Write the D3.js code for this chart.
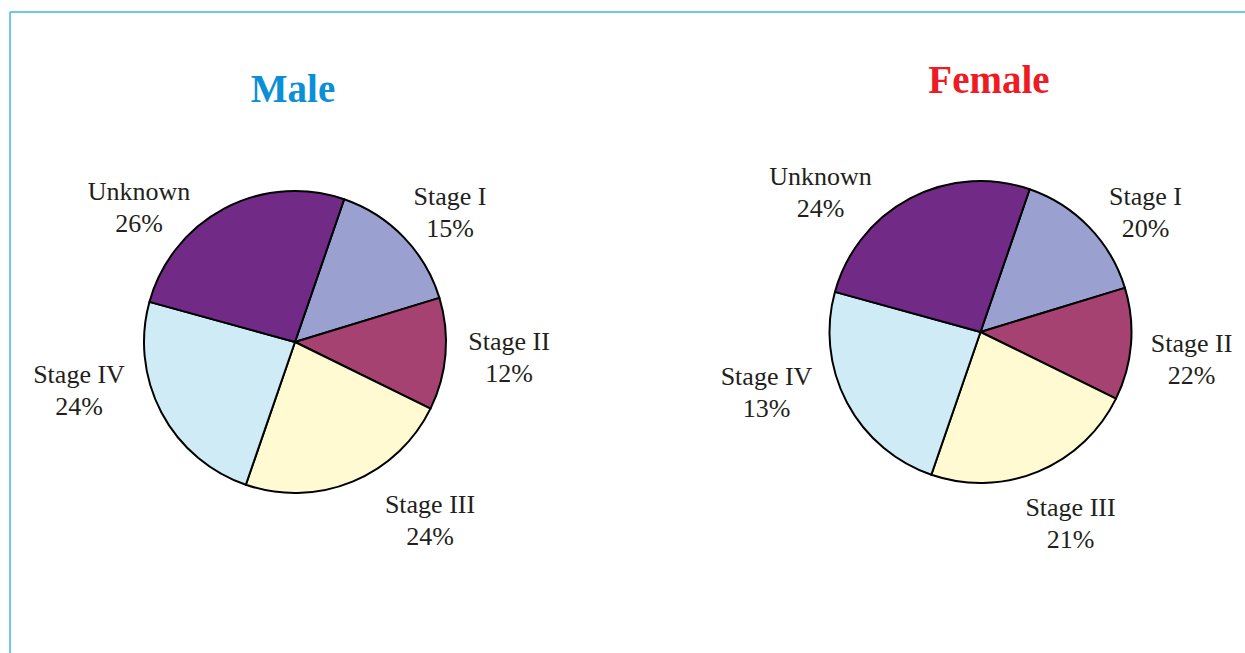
<!DOCTYPE html>
<html>
<head>
<meta charset="utf-8">
<script src="https://cdn.jsdelivr.net/npm/d3@7"></script>
<style>
  html, body { margin: 0; padding: 0; background: #fff; }
  text { font-family: "Liberation Serif", "Times New Roman", serif; }
</style>
</head>
<body>
<svg id="chart" width="1245" height="653"></svg>
<script>
// stage categories, in clockwise order from the top
var stages = ['Stage I', 'Stage II', 'Stage III', 'Stage IV', 'Unknown']
var stageColors = ['#9aa0cf', '#a54272', '#fffad2', '#cfebf5', '#722a87']

// percentages printed on the labels
var maleLabels = [15, 12, 24, 24, 26]
var femaleLabels = [20, 22, 21, 13, 24]

// slice shares as drawn in the picture (both pies are drawn with the same shapes)
var maleSlices = [15, 12, 23, 24, 26]
var femaleSlices = [15, 12, 23, 24, 26]

var svg = d3.select('#chart')

/** frame lines, top and left */
svg.append('line').attr('x1', 10).attr('y1', 12).attr('x2', 1245).attr('y2', 12)
  .style('stroke', '#43b5e8').style('stroke-width', 1.5)
svg.append('line').attr('x1', 10).attr('y1', 12).attr('x2', 10).attr('y2', 653)
  .style('stroke', '#43b5e8').style('stroke-width', 1.5)

var radius = 151
var color = d3.scaleOrdinal().domain(stages).range(stageColors)
var arc = d3.arc().innerRadius(0).outerRadius(radius)
var pie = d3.pie().sort(null)
  .startAngle(19 * Math.PI / 180)
  .endAngle(19 * Math.PI / 180 + 2 * Math.PI)

function drawPie (cfg) {
  var g = svg.append('g').attr('transform', 'translate(' + cfg.cx + ',' + cfg.cy + ')')
  var data = stages.map(function (s, i) { return { stage: s, slice: cfg.slices[i], label: cfg.labels[i] } })
  var arcs = pie.value(function (d) { return d.slice })(data)

  g.selectAll('path').data(arcs).enter().append('path')
    .attr('d', arc)
    .style('fill', function (d) { return color(d.data.stage) })
    .style('stroke', '#000')
    .style('stroke-width', 2)
    .style('stroke-linejoin', 'round')

  var lbl = g.selectAll('text.lbl').data(arcs).enter().append('text')
    .attr('class', 'lbl')
    .attr('text-anchor', 'middle')
    .style('font-size', '26px')
    .style('fill', '#231f20')
    .attr('transform', function (d, i) { return 'translate(' + cfg.labelPos[i][0] + ',' + cfg.labelPos[i][1] + ')' })
  lbl.append('tspan').attr('x', 0).attr('y', 0).text(function (d) { return d.data.stage })
  lbl.append('tspan').attr('x', 0).attr('y', 32).text(function (d) { return d.data.label + '%' })

  svg.append('text')
    .attr('x', cfg.titleX).attr('y', cfg.titleY)
    .attr('text-anchor', 'middle')
    .style('font-size', '39px')
    .style('font-weight', 'bold')
    .style('fill', cfg.titleColor)
    .text(cfg.title)
}

drawPie({
  title: 'Male', titleColor: '#0b8fd6', titleX: 293, titleY: 102,
  cx: 295, cy: 342, slices: maleSlices, labels: maleLabels,
  labelPos: [[155, -137], [214, 8], [135, 171], [-216, 41], [-156, -142]]
})
drawPie({
  title: 'Female', titleColor: '#ed1c24', titleX: 989, titleY: 93,
  cx: 980.5, cy: 332, slices: femaleSlices, labels: femaleLabels,
  labelPos: [[165, -127], [211, 20], [90, 184], [-214, 53], [-160, -147]]
})
</script>
</body>
</html>
